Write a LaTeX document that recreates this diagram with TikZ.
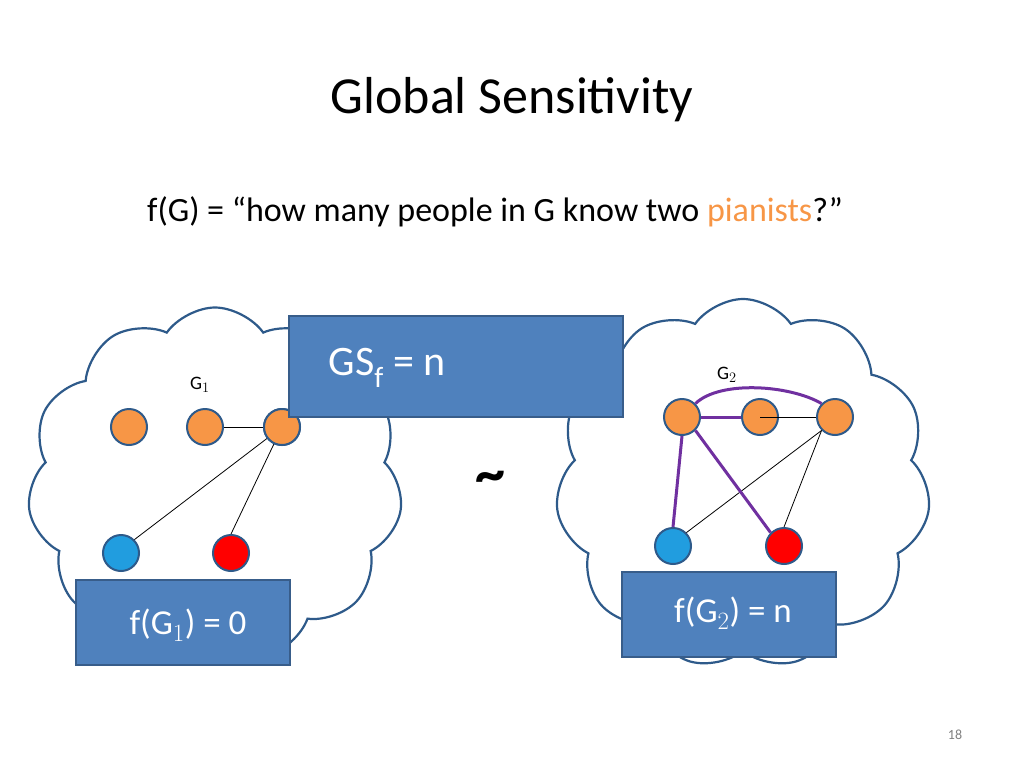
\documentclass[tikz,border=0pt]{standalone}
\usepackage{fontspec}
\setmainfont{Carlito}
\usetikzlibrary{shapes.symbols}
\definecolor{bx}{HTML}{4F81BD}
\definecolor{bxd}{HTML}{385D8A}
\definecolor{cl}{HTML}{2E5A8A}
\definecolor{org}{HTML}{F79646}
\definecolor{pur}{HTML}{7030A0}
\begin{document}
\begin{tikzpicture}[x=1pt,y=-1pt,
 cloudy/.style={cloud,cloud puffs=11,cloud puff arc=110,draw=cl,line width=2.2pt,fill=white,inner sep=0pt},
 vert/.style={circle,draw=cl,line width=2pt,minimum size=36pt,inner sep=0pt},
 box/.style={rectangle,draw=bxd,line width=2pt,fill=bx,text=white,inner sep=0pt},
 thin/.style={black,line width=0.8pt},
 thick/.style={pur,line width=3pt}]
\useasboundingbox (0,0) rectangle (1024,768);
\node at (512,100) {\fontsize{52}{60}\selectfont Global Sensitivity};
\node at (495,212) {\fontsize{34}{40}\selectfont f(G) = “how many people in G know two \textcolor{org}{pianists}?”};
\node[cloudy,minimum width=375pt,minimum height=355pt] (c1) at (215,485) {};
\node[cloudy,minimum width=375pt,minimum height=370pt] (c2) at (743,484) {};
\node at (200,385) {\fontsize{19}{22}\selectfont G$_1$};
\node at (727,375) {\fontsize{19}{22}\selectfont G$_2$};
\node[vert,fill=org] (a1) at (129,427) {};
\node[vert,fill=org] (a2) at (205,427) {};
\node[vert,fill=org] (a3) at (282,427) {};
\node[vert,fill=cyan!80!blue!90] (a4) at (121,553) {};
\node[vert,fill=red] (a5) at (231,553) {};
\draw[thin] (a2.east) -- (a3.west);
\draw[thin] (a3.center) -- (a4.north east);
\draw[thin] (a3.center) -- (a5.north);
\node[vert,fill=org] (a3) at (282,427) {};
\node[vert,fill=org] (b1) at (682,417) {};
\node[vert,fill=org] (b2) at (760,417) {};
\node[vert,fill=org] (b3) at (835,417) {};
\node[vert,fill=cyan!80!blue!90] (b4) at (673,546) {};
\node[vert,fill=red] (b5) at (784,546) {};
\draw[thin] (b2.center) -- (b3.west);
\draw[thin] (b3.south west) -- (b4.north east);
\draw[thin] (b3.south west) -- (b5.north);
\draw[thick] (b1.north east) .. controls (720,380) and (790,385) .. (b3.north west);
\draw[thick] (b1.east) -- (b2.west);
\draw[thick] (b1.south) -- (b4.north);
\draw[thick] (b1.south east) -- (b5.north west);
\node[box,minimum width=334pt,minimum height=101pt] (gs) at (456,366.5) {};
\node[anchor=west] at (325,368) {\fontsize{42}{48}\selectfont\color{white}GS$_{\mathrm{f}}$ = n};
\node[box,minimum width=214pt,minimum height=85pt] (f1) at (183,622.5) {};
\node at (188,625) {\fontsize{35}{40}\selectfont\color{white}f(G$_1$) = 0};
\node[box,minimum width=214pt,minimum height=85pt] (f2) at (729,614.5) {};
\node at (733,613) {\fontsize{35}{40}\selectfont\color{white}f(G$_2$) = n};
\node at (490,482) {\fontsize{60}{60}\selectfont\bfseries \char"007E};
\node[text=gray] at (955,735) {\fontsize{14}{16}\selectfont 18};
\end{tikzpicture}
\end{document}
